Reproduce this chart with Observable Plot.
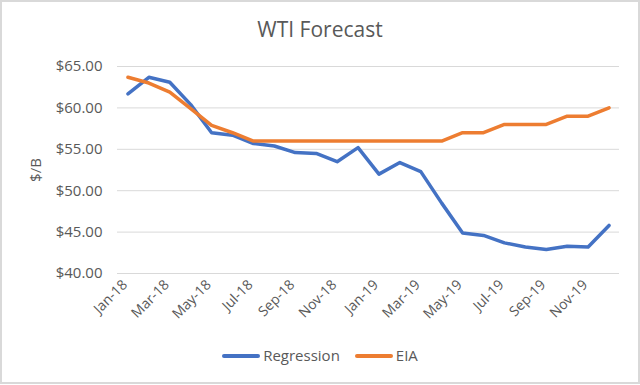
<!DOCTYPE html>
<html>
<head>
<meta charset="utf-8">
<script src="https://cdn.jsdelivr.net/npm/d3@7"></script>
<script src="https://cdn.jsdelivr.net/npm/@observablehq/plot@0.6"></script>
<style>
  html, body { margin: 0; padding: 0; background: #fff; }
  body { position: relative; width: 640px; height: 385px; overflow: hidden; font-family: "Open Sans", sans-serif; color: #595959; }
  #frame { position: absolute; left: 0; top: 0; width: 640px; height: 384px; box-sizing: border-box; border: 2px solid #d9d9d9; pointer-events: none; }
  #title { position: absolute; left: 0; top: 19px; width: 640px; text-align: center; font-size: 21px; line-height: 21px; }
  #chart { position: absolute; left: 0; top: 0; }
  #legend { position: absolute; left: 0; top: 348px; width: 640px; height: 15px; display: flex; justify-content: center; align-items: center; font-size: 15px; line-height: 15px; }
  .sw { display: inline-block; width: 38px; height: 4px; border-radius: 2px; margin-right: 3px; }
  .item { display: flex; align-items: center; }
  .item + .item { margin-left: 15px; }
</style>
</head>
<body>
<div id="chart"></div>
<div id="title">WTI Forecast</div>
<div id="legend"></div>
<div id="frame"></div>
<script>
const months = ["Jan-18","Feb-18","Mar-18","Apr-18","May-18","Jun-18","Jul-18","Aug-18","Sep-18","Oct-18","Nov-18","Dec-18",
                "Jan-19","Feb-19","Mar-19","Apr-19","May-19","Jun-19","Jul-19","Aug-19","Sep-19","Oct-19","Nov-19","Dec-19"];
const regression = [61.7, 63.7, 63.1, 60.4, 57.0, 56.7, 55.7, 55.4, 54.6, 54.5, 53.5, 55.2,
                    52.0, 53.4, 52.3, 48.5, 44.9, 44.6, 43.7, 43.2, 42.9, 43.3, 43.2, 45.8];
const eia = [63.7, 63.0, 61.9, 59.9, 57.9, 57.0, 56.0, 56.0, 56.0, 56.0, 56.0, 56.0,
             56.0, 56.0, 56.0, 56.0, 57.0, 57.0, 58.0, 58.0, 58.0, 59.0, 59.0, 60.0];
const seriesNames = ["Regression", "EIA"];
const seriesColors = ["#4472C4", "#ED7D31"];
const yTicks = [40, 45, 50, 55, 60, 65];
const xTickLabels = ["Jan-18","Mar-18","May-18","Jul-18","Sep-18","Nov-18","Jan-19","Mar-19","May-19","Jul-19","Sep-19","Nov-19"];

const rows = [
  ...months.map((m, i) => ({month: m, value: regression[i], series: seriesNames[0]})),
  ...months.map((m, i) => ({month: m, value: eia[i], series: seriesNames[1]}))
];

const plot = Plot.plot({
  width: 640,
  height: 340,
  marginTop: 66,
  marginBottom: 67,
  marginLeft: 117,
  marginRight: 21,
  style: {fontFamily: "Open Sans, sans-serif", color: "#595959", background: "transparent", overflow: "visible"},
  x: {type: "point", domain: months, padding: 0.5, round: false},
  y: {domain: [40, 65]},
  color: {domain: seriesNames, range: seriesColors},
  marks: [
    Plot.gridY({ticks: yTicks, stroke: "#d9d9d9", strokeOpacity: 1, strokeWidth: 1}),
    Plot.axisY({ticks: yTicks, tickSize: 0, tickPadding: 15, fontSize: 15,
      tickFormat: d => "$" + d.toFixed(2),
      label: "$/B", labelAnchor: "center", labelArrow: "none", labelOffset: 87}),
    Plot.axisX({ticks: xTickLabels, tickSize: 0, tickPadding: 9, tickRotate: -45, fontSize: 14, dx: -3, label: null}),
    Plot.line(rows, {x: "month", y: "value", stroke: "series", z: "series", strokeWidth: 3.5,
      strokeLinejoin: "round", strokeLinecap: "round"})
  ]
});
document.getElementById("chart").appendChild(plot);

const legend = document.getElementById("legend");
seriesNames.forEach((name, i) => {
  const item = document.createElement("div");
  item.className = "item";
  const sw = document.createElement("span");
  sw.className = "sw";
  sw.style.background = seriesColors[i];
  const label = document.createElement("span");
  label.textContent = name;
  item.appendChild(sw);
  item.appendChild(label);
  legend.appendChild(item);
});
</script>
</body>
</html>
